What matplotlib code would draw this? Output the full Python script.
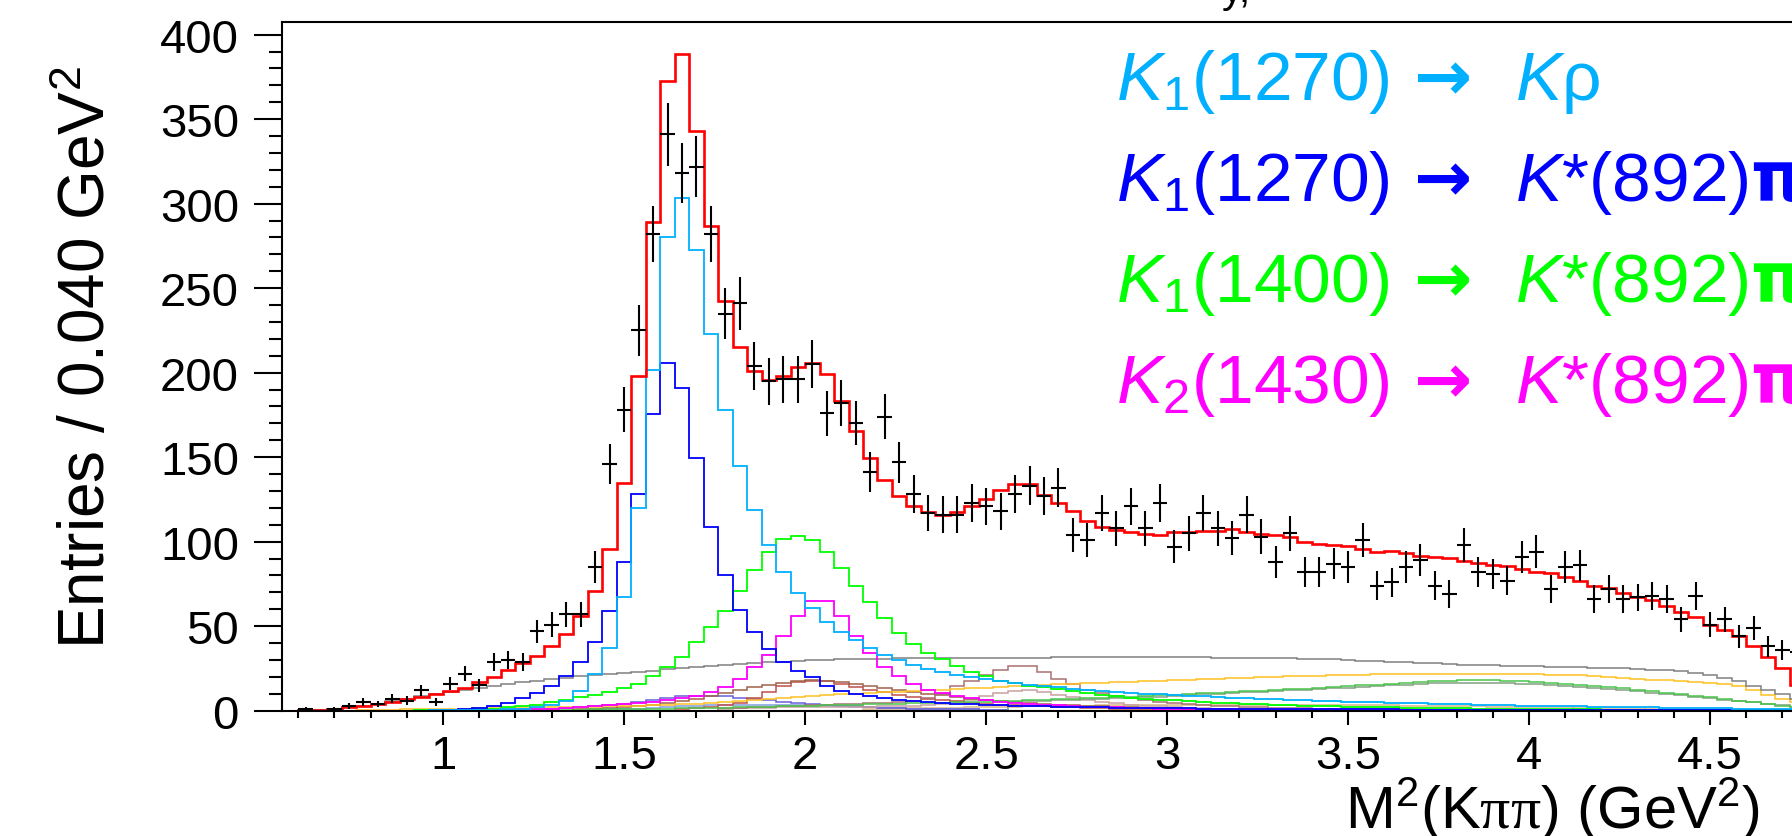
import numpy as np
import matplotlib.pyplot as plt
from matplotlib.ticker import MultipleLocator

plt.rcParams['font.family'] = ['Liberation Sans', 'DejaVu Sans']
plt.rcParams['mathtext.fontset'] = 'custom'
plt.rcParams['mathtext.rm'] = 'Liberation Sans'
plt.rcParams['mathtext.it'] = 'Liberation Sans:italic'
plt.rcParams['mathtext.bf'] = 'DejaVu Sans:bold'
plt.rcParams['mathtext.sf'] = 'Liberation Serif'

# binning in M^2(K pi pi): 0.04 GeV^2 bins starting at 0.56
x_lo = 0.56
bin_w = 0.04

# data counts per bin
data = [0, 1, 0, 1, 3, 5, 4, 7, 6, 12,
        5, 16, 22, 15, 29, 30, 29, 47, 51, 57,
        57, 85, 146, 178, 225, 282, 341, 318, 322, 282,
        235, 241, 204, 195, 196, 196, 205, 176, 182, 170,
        141, 174, 147, 128, 117, 116, 116, 123, 121, 118,
        128, 133, 127, 132, 104, 101, 117, 108, 121, 108,
        123, 97, 105, 117, 108, 102, 116, 103, 88, 105,
        82, 82, 87, 85, 101, 74, 76, 85, 89, 74,
        69, 98, 82, 81, 77, 91, 94, 72, 85, 86,
        66, 72, 66, 67, 68, 66, 54, 68, 51, 54,
        44, 49, 38, 36, 35]

# total fit
fit_total = [0.1, 0.3, 0.5, 1.0, 2.0, 3.0, 4.1, 5.3, 6.7, 8.1,
             9.7, 11.5, 13.6, 16.8, 20.1, 24.1, 28, 32.5, 38, 45.4,
             56.2, 71, 95.7, 135, 198, 289, 372.4, 388.6, 343, 286.6,
             242.6, 215.4, 201.2, 195.7, 197.9, 203.2, 206, 199, 183.4, 165.7,
             149.3, 136.7, 127.2, 121, 117.4, 116, 117.4, 121, 125.3, 130.8,
             134, 134, 127.6, 122.9, 118.3, 112.4, 108.5, 107, 106, 104.6,
             104, 106, 106, 106.5, 106.5, 107.5, 106, 104.6, 104, 102.6,
             100, 98.5, 98, 97.3, 95.7, 93.7, 94.5, 93.3, 91.7, 90.7,
             90.2, 88.8, 87.2, 86.2, 85.4, 83.8, 82.3, 81.5, 78.9, 76.6,
             73.6, 72.4, 69.6, 67.1, 65.7, 62.1, 58.2, 55.3, 50.7, 47.9,
             44.4, 38.5, 31.6, 25, 15]

# K1(1270) -> K rho
k1270_krho = [0, 0, 0, 0, 0, 0, 0, 0, 0.1, 0.1,
              0.2, 0.3, 0.4, 0.5, 0.7, 0.9, 1.2, 2.0, 3.5, 6.0,
              11.8, 21.7, 36.9, 67.1, 119.8, 201.8, 280, 303.4, 272.6, 222.9,
              178.1, 145, 119, 98, 81.9, 69.6, 60.6, 52.3, 46.4, 41.8,
              37.1, 33.1, 30.2, 27.2, 24.7, 22.7, 21.1, 19.7, 18.8, 17.4,
              16.4, 15.5, 14.6, 13.8, 13.0, 12.3, 11.6, 11.0, 10.5, 10.1,
              9.7, 9.3, 8.9, 8.5, 8.1, 7.7, 7.3, 7.0, 6.7, 6.4,
              6.1, 5.8, 5.5, 5.3, 5.1, 4.9, 4.7, 4.5, 4.3, 4.1,
              3.9, 3.7, 3.5, 3.4, 3.2, 3.0, 2.9, 2.8, 2.7, 2.6,
              2.4, 2.2, 2.1, 2.0, 1.9, 1.8, 1.7, 1.6, 1.5, 1.4,
              1.3, 1.2, 1.1, 1.0, 0.9]

# K1(1270) -> K*(892) pi
k1270_kstpi = [0, 0, 0, 0, 0, 0, 0, 0, 0, 0.1,
               0.3, 0.5, 0.8, 1.5, 2.5, 4.5, 7.3, 10.5, 14.8, 20.3,
               28.6, 40.5, 59.2, 87.8, 128.2, 175.6, 206, 191, 149.3, 108.9,
               80.3, 59.8, 46.4, 36.5, 29, 23.7, 19.8, 14.8, 11.8, 9.9,
               8.5, 7.3, 6.3, 5.5, 5.0, 4.5, 4.1, 3.7, 3.4, 3.1,
               2.9, 2.7, 2.5, 2.3, 2.2, 2.0, 1.9, 1.8, 1.7, 1.6,
               1.5, 1.4, 1.4, 1.3, 1.3, 1.2, 1.2, 1.1, 1.1, 1.0,
               1.0, 0.9, 0.9, 0.9, 0.8, 0.8, 0.8, 0.7, 0.7, 0.7,
               0.6, 0.6, 0.6, 0.6, 0.5, 0.5, 0.5, 0.5, 0.5, 0.5,
               0.4, 0.4, 0.4, 0.4, 0.4, 0.3, 0.3, 0.3, 0.3, 0.3,
               0.3, 0.2, 0.2, 0.2, 0.2]

# K1(1400) -> K*(892) pi
k1400_kstpi = [0, 0, 0, 0, 0, 0, 0, 0, 0.1, 0.2,
               0.3, 0.4, 0.6, 0.9, 1.3, 1.9, 2.6, 3.4, 5.0, 6.3,
               8.0, 9.5, 11.3, 13.2, 16.0, 20.3, 25.7, 32.0, 40.5, 49.3,
               59.2, 71.0, 83.4, 94.1, 101.6, 103.2, 101.2, 94.1, 84.4, 74.0,
               64.1, 54.7, 46.0, 39.5, 34.1, 30.6, 26.6, 23.1, 20.3, 17.8,
               16.2, 14.8, 13.8, 12.8, 11.8, 10.5, 9.3, 8.5, 7.8, 7.2,
               6.6, 6.1, 5.6, 5.2, 4.8, 4.4, 4.1, 3.8, 3.5, 3.2,
               3.0, 2.8, 2.6, 2.4, 2.2, 2.0, 1.9, 1.8, 1.7, 1.6,
               1.5, 1.4, 1.3, 1.2, 1.1, 1.0, 1.0, 0.9, 0.9, 0.8,
               0.8, 0.7, 0.7, 0.6, 0.6, 0.5, 0.5, 0.4, 0.4, 0.3,
               0.3, 0.2, 0.2, 0.1, 0.1]

# K2(1430) -> K*(892) pi
k1430_kstpi = [0, 0, 0, 0, 0, 0, 0, 0, 0, 0,
               0.1, 0.1, 0.2, 0.3, 0.4, 0.6, 0.8, 1.0, 1.3, 1.7,
               2.2, 2.7, 3.3, 3.9, 4.5, 5.3, 6.3, 7.3, 8.5, 10.8,
               14.2, 18.7, 25.6, 33.1, 44.4, 56.2, 65.1, 64.7, 56.2, 44.2,
               34.1, 25.7, 20.3, 15.8, 12.4, 10.5, 8.5, 7.3, 6.2, 5.3,
               4.6, 4.0, 3.5, 3.1, 2.7, 2.4, 2.1, 1.9, 1.7, 1.5,
               1.3, 1.2, 1.1, 1.0, 0.9, 0.8, 0.7, 0.7, 0.6, 0.6,
               0.5, 0.5, 0.5, 0.4, 0.4, 0.4, 0.4, 0.3, 0.3, 0.3,
               0.3, 0.3, 0.3, 0.2, 0.2, 0.2, 0.2, 0.2, 0.2, 0.2,
               0.2, 0.2, 0.1, 0.1, 0.1, 0.1, 0.1, 0.1, 0.1, 0.1,
               0.1, 0.1, 0.1, 0.1, 0.1]

# broad components
comp_gray = [0, 0.2, 0.5, 1.0, 2.0, 3.0, 4.0, 5.5, 7.0, 8.5,
             10.0, 11.0, 12.2, 13.5, 14.7, 15.8, 16.8, 17.8, 18.7, 19.5,
             20.3, 21.0, 21.7, 22.3, 23.0, 23.7, 24.5, 25.3, 26.0, 26.6,
             27.2, 27.7, 28.2, 28.6, 29.0, 29.4, 29.8, 30.2, 30.4, 30.6,
             30.7, 30.8, 30.9, 31.0, 31.0, 31.1, 31.1, 31.2, 31.2, 31.3,
             31.3, 31.4, 31.4, 31.5, 31.5, 31.6, 31.6, 31.6, 31.6, 31.6,
             31.6, 31.6, 31.5, 31.5, 31.4, 31.3, 31.2, 31.1, 31.0, 30.9,
             30.7, 30.5, 30.3, 30.0, 29.7, 29.4, 29.1, 28.8, 28.4, 28.0,
             27.6, 27.3, 27.1, 26.9, 26.7, 26.5, 26.3, 26.1, 25.9, 25.7,
             25.5, 25.2, 25.0, 24.7, 24.3, 23.8, 23.2, 22.5, 21.0, 19.5,
             17.5, 14.5, 12.0, 10.0, 7.0]

comp_orange = [0, 0, 0, 0, 0, 0.2, 0.4, 0.6, 0.8, 1.0,
               1.1, 1.2, 1.3, 1.4, 1.5, 1.6, 1.7, 1.8, 1.9, 2.0,
               2.2, 2.4, 2.6, 2.8, 3.0, 3.3, 3.6, 3.9, 4.2, 4.5,
               5.0, 5.5, 6.1, 6.7, 7.4, 8.1, 8.6, 9.1, 9.6, 10.0,
               10.4, 10.8, 11.2, 11.6, 12.0, 12.4, 12.8, 13.2, 13.6, 14.0,
               14.4, 14.8, 15.2, 15.6, 16.0, 16.3, 16.6, 16.9, 17.2, 17.5,
               17.8, 18.1, 18.4, 18.7, 19.0, 19.3, 19.6, 19.9, 20.2, 20.4,
               20.6, 20.8, 21.0, 21.2, 21.4, 21.6, 21.7, 21.8, 21.9, 22.0,
               22.0, 22.0, 22.0, 22.0, 21.9, 21.8, 21.6, 21.4, 21.2, 21.0,
               20.3, 19.7, 19.2, 18.8, 18.4, 18.0, 17.5, 17.0, 16.4, 15.6,
               14.4, 12.5, 9.5, 7.0, 5.0]

comp_midgreen = [0, 0, 0, 0, 0, 0, 0, 0, 0, 0,
                 0, 0, 0, 0, 0.1, 0.2, 0.3, 0.4, 0.5, 0.6,
                 0.7, 0.8, 0.9, 1.0, 1.1, 1.2, 1.3, 1.4, 1.5, 1.6,
                 1.8, 2.0, 2.2, 2.4, 2.6, 2.8, 3.0, 3.2, 3.4, 3.6,
                 3.8, 4.0, 4.2, 4.4, 4.6, 4.8, 5.0, 5.2, 5.4, 5.6,
                 5.9, 6.2, 6.5, 6.8, 7.1, 7.4, 7.7, 8.0, 8.3, 8.6,
                 9.0, 9.4, 9.8, 10.2, 10.6, 11.0, 11.4, 11.8, 12.2, 12.6,
                 13.0, 13.5, 14.0, 14.5, 15.0, 15.5, 16.0, 16.5, 17.0, 17.5,
                 17.8, 18.0, 18.0, 17.9, 17.7, 17.4, 17.0, 16.5, 16.0, 15.4,
                 14.7, 14.0, 13.2, 12.4, 11.5, 10.6, 9.7, 8.8, 7.9, 7.0,
                 6.0, 5.0, 4.0, 3.0, 2.2]

# (first bin, values) for components that only live in part of the range
comp_greygreen = (50, [5.4, 5.7, 6.0, 6.3, 6.6, 6.9, 7.2, 7.5, 7.8, 8.1,
                       8.4, 8.8, 9.2, 9.6, 10.0, 10.4, 10.8, 11.2, 11.6, 12.0,
                       12.4, 12.8, 13.2, 13.6, 14.0, 14.5, 15.0, 15.4, 15.8, 16.2,
                       16.4, 16.5, 16.5, 16.4, 16.2, 16.0, 15.6, 15.2, 14.7, 14.2,
                       13.6, 12.9, 12.2, 11.4, 10.6, 9.8, 9.0, 8.2, 7.4, 6.6,
                       5.8, 4.9, 4.0, 3.1, 2.3])
comp_brown = (20, [1.0, 1.3, 1.7, 2.2, 2.8, 3.5, 4.5, 5.6, 7.0, 8.7,
                   10.5, 12.5, 14.2, 15.4, 16.4, 17.4, 18.0, 17.6, 16.8, 15.6,
                   14.4, 13.2, 12.0, 11.0, 10.0, 9.0, 8.0, 7.2, 6.5, 5.8,
                   5.2, 4.6, 4.1, 3.6, 3.2, 2.8, 2.5, 2.2, 2.0, 1.8,
                   1.6, 1.4, 1.3, 1.2, 1.1, 1.0, 0.9, 0.8, 0.7, 0.6])
comp_indianred = (27, [1.0, 1.5, 2.3,
                       3.4, 4.5, 7.3, 10.8, 14.8, 16.8, 17.8, 17.3, 16.0, 14.2,
                       12.4, 10.8, 9.5, 8.3, 7.2, 6.3, 5.5, 4.8, 4.2, 3.6,
                       3.2, 2.8, 2.5, 2.2, 1.9, 1.7, 1.5, 1.3, 1.2, 1.0])
comp_rosy = (30, [1.5, 1.8, 2.1, 2.4, 2.7, 3.0, 3.3, 3.6, 3.9, 4.2,
                  4.5, 4.8, 5.2, 6.0, 7.5, 10.0, 14.8, 17.8, 21.1, 24.3,
                  26.3, 26.3, 22.7, 18.8, 15.8, 12.4, 10.5, 8.9, 7.5, 6.3,
                  5.4, 4.6, 4.0, 3.5, 3.0, 2.6, 2.3, 2.0, 1.8, 1.6,
                  1.4, 1.3, 1.2, 1.1, 1.0, 0.9, 0.8, 0.8, 0.7, 0.7])
comp_lightrosy = (30, [1.2, 1.4, 1.6, 1.8, 2.0, 2.1, 2.2, 2.3, 2.3, 2.4,
                       2.4, 2.6, 2.8, 3.0, 3.4, 4.0, 5.0, 6.5, 8.5, 10.5,
                       11.8, 12.0, 11.0, 9.5, 8.0, 6.5, 5.3, 4.3, 3.6, 3.0,
                       2.5, 2.1, 1.8, 1.5, 1.3, 1.1, 1.0, 0.9, 0.8, 0.7])
comp_slate = (18, [1.0, 1.5,
                   2.0, 2.6, 3.3, 4.2, 5.2, 6.5, 7.5, 8.5, 8.9, 8.9,
                   8.5, 7.8, 7.0, 6.2, 5.4, 4.7, 4.0, 3.4, 2.9, 2.5,
                   2.1, 1.8, 1.5, 1.3, 1.1, 1.0, 0.9, 0.8, 0.7, 0.6])
comp_steel = (22, [0.5, 0.8, 1.1, 1.5, 2.0, 2.5, 3.0, 3.2,
                   3.4, 3.5, 3.5, 3.5, 3.4, 3.2, 3.0, 2.8, 2.6, 2.3,
                   2.0, 1.8, 1.5, 1.3, 1.2, 1.0, 0.9, 0.8, 0.7, 0.6])
comp_tan = (40, [1.0, 1.1, 1.2, 1.4, 1.5, 1.7, 1.8, 2.0, 2.1, 2.3,
                 2.4, 2.5, 2.7, 2.8, 2.9, 3.0, 3.1, 3.2, 3.3, 3.4,
                 3.4, 3.5, 3.5, 3.6, 3.6, 3.6, 3.6, 3.6, 3.6, 3.5,
                 3.5, 3.4, 3.4, 3.3, 3.3, 3.2, 3.1, 3.0, 2.9, 2.8,
                 2.7, 2.6, 2.5, 2.4, 2.3, 2.2, 2.1, 2.0, 1.9, 1.8,
                 1.7, 1.6, 1.5, 1.4, 1.3, 1.2, 1.1, 1.0, 0.9, 0.8,
                 0.7, 0.6, 0.5, 0.4, 0.3])

legend_lines = [r"$K_{1}$(1270)$\,\mathbf{\rightarrow}\ \>K$ρ",
                r"$K_{1}$(1270)$\,\mathbf{\rightarrow}\ \>K$*(892)$\mathbf{\pi}$",
                r"$K_{1}$(1400)$\,\mathbf{\rightarrow}\ \>K$*(892)$\mathbf{\pi}$",
                r"$K_{2}$(1430)$\,\mathbf{\rightarrow}\ \>K$*(892)$\mathbf{\pi}$"]
legend_colors = ["#00b0ff", "#0000ff", "#00ff00", "#ff00ff"]

n_bins = len(data)
edges = x_lo + bin_w * np.arange(n_bins + 1)
centers = edges[:-1] + bin_w / 2


def from_bin(part):
    start, vals = part
    out = np.zeros(n_bins)
    out[start:start + len(vals)] = vals
    return out


W, H = 1792, 837
fig = plt.figure(figsize=(W / 100, H / 100), dpi=100)
ax = fig.add_axes([282 / W, (H - 711.7) / H, 1 - 282 / W, (711.7 - 23) / H])

# small components first, then the named ones, fit and data on top
small = [(from_bin(comp_tan), "#d8b888"),
         (from_bin(comp_steel), "#7f9fdf"),
         (from_bin(comp_slate), "#6a5fd8"),
         (from_bin(comp_lightrosy), "#c8a0a0"),
         (from_bin(comp_indianred), "#c0504d"),
         (from_bin(comp_brown), "#a0604a"),
         (from_bin(comp_rosy), "#a87070"),
         (from_bin(comp_greygreen), "#80a080"),
         (np.array(comp_midgreen), "#4cc44c"),
         (np.array(comp_orange), "#ffc020"),
         (np.array(comp_gray), "#808080")]
for vals, col in small:
    ax.stairs(vals, edges, baseline=None, color=col, lw=1.1)

for vals, col in [(k1430_kstpi, "#ff00ff"), (k1400_kstpi, "#00ff00"),
                  (k1270_kstpi, "#0000ff"), (k1270_krho, "#00b0ff")]:
    ax.stairs(vals, edges, baseline=None, color=col, lw=1.3)

ax.stairs(fit_total, edges, baseline=None, color="red", lw=1.9)

counts = np.array(data, dtype=float)
m = counts > 0
ax.errorbar(centers[m], counts[m], xerr=bin_w / 2, yerr=np.sqrt(counts[m]),
            fmt='none', ecolor='black', elinewidth=1.5, capsize=0, zorder=5)

ax.set_xlim(0.555, 0.555 + (W - 282) / 362.0)
ax.set_ylim(0, 407.5)
ax.set_xticks([1, 1.5, 2, 2.5, 3, 3.5, 4, 4.5])
ax.set_xticklabels(["1", "1.5", "2", "2.5", "3", "3.5", "4", "4.5"])
ax.xaxis.set_minor_locator(MultipleLocator(0.1))
ax.set_yticks(np.arange(0, 401, 50))
ax.yaxis.set_minor_locator(MultipleLocator(10))
ax.tick_params(axis='x', which='major', direction='out', length=10, width=1.5,
               pad=7, labelsize=34)
ax.tick_params(axis='x', which='minor', direction='out', length=5, width=1.5)
ax.tick_params(axis='y', which='major', direction='out', length=20, width=1.5,
               pad=11, labelsize=34)
ax.tick_params(axis='y', which='minor', direction='out', length=9.5, width=1.5)
ax.spines['right'].set_visible(False)
for s in ['left', 'top', 'bottom']:
    ax.spines[s].set_linewidth(1.5)

fig.text(88 / W, 1 - 358 / H, r"Entries / 0.040 GeV$^{\mathrm{2}}$",
         rotation=90, ha='center', va='center', fontsize=46)
fig.text(1760 / W, (H - 829) / H,
         r"M$^{\mathrm{2}}$(K$\mathsf{\pi\pi}$) (GeV$^{\mathrm{2}}$)",
         ha='right', va='baseline', fontsize=43)

for i, (txt, col) in enumerate(zip(legend_lines, legend_colors)):
    fig.text(1116 / W, 1 - (100 + 101 * i) / H, txt, color=col,
             fontsize=50, ha='left', va='baseline')

# bottom edge of the title above the frame
fig.text(1222 / W, 1 - 2 / H, "y,", fontsize=30, ha='left', va='baseline')

fig.savefig("out.png", dpi=100)
